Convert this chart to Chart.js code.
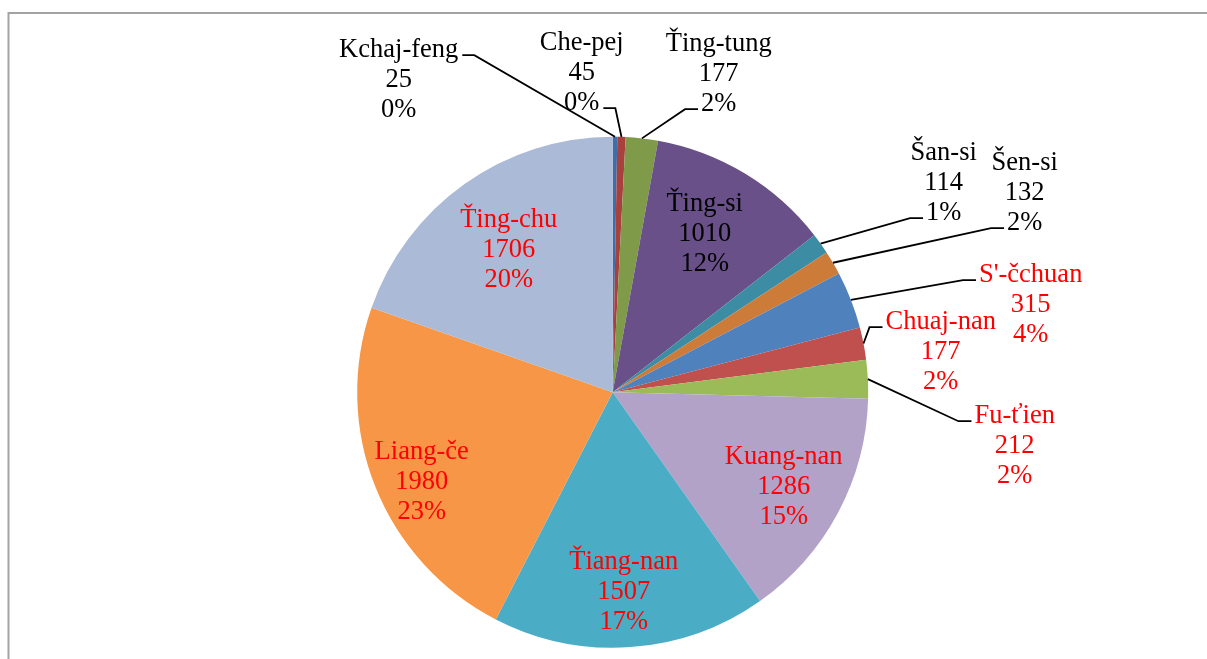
<!DOCTYPE html>
<html>
<head>
<meta charset="utf-8">
<script src="https://cdn.jsdelivr.net/npm/chart.js@4.4.1/dist/chart.umd.min.js"></script>
<style>
  body { margin: 0; background: #fff; }
  #wrap { width: 1207px; height: 659px; position: relative; }
</style>
</head>
<body>
<div id="wrap"><canvas id="grafica"></canvas></div>
<script>
// datos (en sentido horario desde arriba)
const provincias = ['Kchaj-feng', 'Che-pej', 'Ťing-tung', 'Ťing-si', 'Šan-si', 'Šen-si', "S'-čchuan", 'Chuaj-nan', 'Fu-ťien', 'Kuang-nan', 'Ťiang-nan', 'Liang-če', 'Ťing-chu'];
const valores = [25, 45, 177, 1010, 114, 132, 315, 177, 212, 1286, 1507, 1980, 1706];
const porcentajes = ['0%', '0%', '2%', '12%', '1%', '2%', '4%', '2%', '2%', '15%', '17%', '23%', '20%'];

const colores = ['#3e6daa', '#a8403d', '#7f9a48', '#695088', '#3c8da3', '#cc7b38', '#4f81bd', '#c0504d', '#9bbb59', '#b2a2c7', '#4bacc6', '#f79646', '#aabad7'];
const coloresTexto = ['#000', '#000', '#000', '#000', '#000', '#000', '#f00', '#f00', '#f00', '#f00', '#f00', '#f00', '#f00'];

// posicion de cada etiqueta respecto al centro (radio de referencia 255.5)
// lado/fila: donde se engancha la linea guia
const posiciones = [
  { dx: -214, dy: -314, lado: 'der', fila: 0 },
  { dx: -31, dy: -321, lado: 'der', fila: 2 },
  { dx: 106, dy: -320, lado: 'izq', fila: 2 },
  { dx: 92, dy: -160 },
  { dx: 331, dy: -211, lado: 'izq', fila: 2 },
  { dx: 412, dy: -201, lado: 'izq', fila: 2 },
  { dx: 418, dy: -89, lado: 'izq', fila: 0 },
  { dx: 328, dy: -42, lado: 'izq', fila: 0 },
  { dx: 402, dy: 52, lado: 'izq', fila: 0 },
  { dx: 171, dy: 93 },
  { dx: 11, dy: 198 },
  { dx: -191, dy: 88 },
  { dx: -104, dy: -144 }
];

const marco = {
  id: 'marco',
  beforeDraw(chart) {
    const c = chart.ctx;
    c.save();
    c.strokeStyle = '#a3a3a3';
    c.lineWidth = 2;
    c.beginPath();
    c.moveTo(8.5, 659);
    c.lineTo(8.5, 13);
    c.lineTo(1207, 13);
    c.stroke();
    c.restore();
  }
};

const etiquetas = {
  id: 'etiquetas',
  afterDatasetsDraw(chart) {
    const c = chart.ctx;
    const meta = chart.getDatasetMeta(0);
    c.save();
    c.font = '26.5px "Liberation Serif", "Times New Roman", serif';
    c.textAlign = 'center';
    c.textBaseline = 'alphabetic';
    meta.data.forEach((arc, i) => {
      const p = arc.getProps(['x', 'y', 'startAngle', 'endAngle', 'outerRadius'], true);
      const k = p.outerRadius / 255.5;
      const pos = posiciones[i];
      const lx = p.x + pos.dx * k;
      const ly = p.y + pos.dy * k;
      const lineas = [provincias[i], String(valores[i]), porcentajes[i]];

      c.fillStyle = coloresTexto[i];
      lineas.forEach((t, j) => {
        c.fillText(t, lx, ly + (j - 1) * 30 + 9);
      });

      if (pos.lado) {
        const medio = (p.startAngle + p.endAngle) / 2;
        const ax = p.x + Math.cos(medio) * p.outerRadius;
        const ay = p.y + Math.sin(medio) * p.outerRadius;
        const w = c.measureText(lineas[pos.fila]).width;
        const ty = ly + (pos.fila - 1) * 30 + 7;
        let ex, hx;
        if (pos.lado === 'der') {
          ex = lx + w / 2 + 4;
          hx = ex + 12;
        } else {
          ex = lx - w / 2 - 3;
          hx = ex - 13;
        }
        c.strokeStyle = '#000';
        c.lineWidth = 1.8;
        c.beginPath();
        c.moveTo(ax, ay);
        c.lineTo(hx, ty);
        c.lineTo(ex, ty);
        c.stroke();
      }
    });
    c.restore();
  }
};

const ctx = document.getElementById('grafica');

const grafica = new Chart(ctx, {
  type: 'pie',
  data: {
    labels: provincias,
    datasets: [{
      data: valores,
      backgroundColor: colores,
      borderWidth: 0
    }]
  },
  options: {
    responsive: true,
    maintainAspectRatio: false,
    animation: false,
    events: [],
    layout: {
      padding: { left: 357.2, right: 338.8, top: 136.7, bottom: 11.3 }
    },
    plugins: {
      legend: { display: false },
      tooltip: { enabled: false }
    }
  },
  plugins: [marco, etiquetas]
});
</script>
</body>
</html>
